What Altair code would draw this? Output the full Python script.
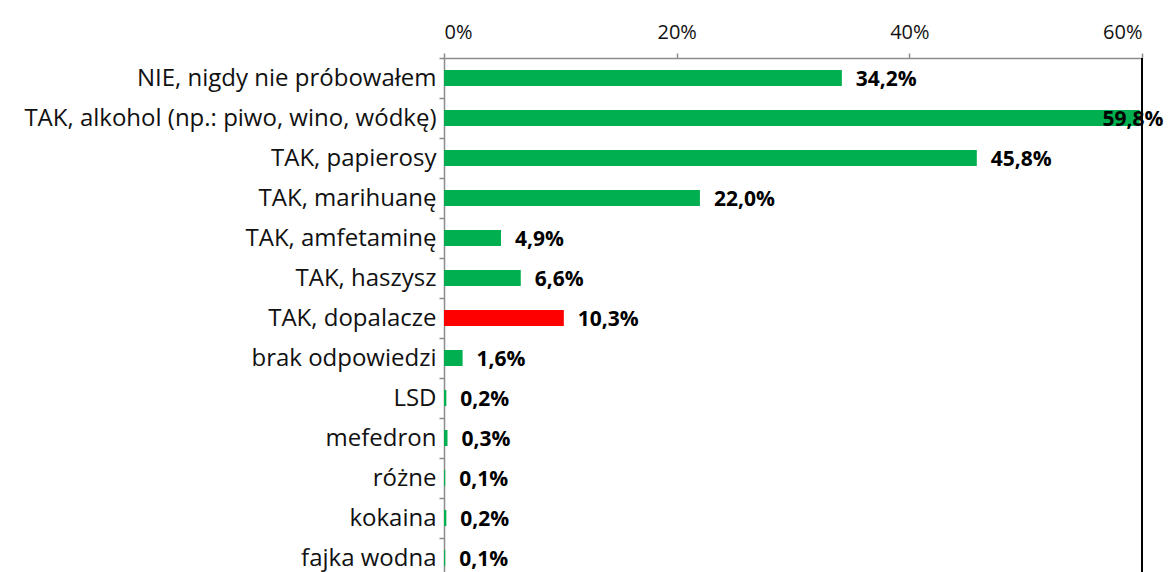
import altair as alt
import pandas as pd

categories = [
    "NIE, nigdy nie próbowałem",
    "TAK, alkohol (np.: piwo, wino, wódkę)",
    "TAK, papierosy",
    "TAK, marihuanę",
    "TAK, amfetaminę",
    "TAK, haszysz",
    "TAK, dopalacze",
    "brak odpowiedzi",
    "LSD",
    "mefedron",
    "różne",
    "kokaina",
    "fajka wodna",
]
values = [34.2, 59.8, 45.8, 22.0, 4.9, 6.6, 10.3, 1.6, 0.2, 0.3, 0.1, 0.2, 0.1]
highlight = ["n", "n", "n", "n", "n", "n", "y", "n", "n", "n", "n", "n", "n"]
x_ticks = [0, 20, 40, 60]

df = pd.DataFrame({"cat": categories, "v": values, "hl": highlight})

W, H = 698, 520
FONT = "Open Sans"

y_enc = alt.Y(
    "cat:N",
    sort=categories,
    scale=alt.Scale(paddingInner=0, paddingOuter=0),
    axis=alt.Axis(
        title=None,
        labelFontSize=24,
        labelFont=FONT,
        labelColor="#111111",
        labelLimit=600,
        labelPadding=3,
        tickBand="extent",
        tickSize=5,
        tickColor="#8c8c8c",
        domainColor="#8c8c8c",
        domainWidth=1.5,
        tickWidth=1.5,
        grid=False,
    ),
)

x_scale = alt.Scale(domain=[0, 60], nice=False)

bars = alt.Chart(df).mark_bar(size=16).encode(
    x=alt.X(
        "v:Q",
        scale=x_scale,
        axis=alt.Axis(
            orient="top",
            values=x_ticks,
            labelExpr="datum.value + '%'",
            title=None,
            grid=False,
            labelFontSize=20,
            labelFont=FONT,
            labelColor="#111111",
            tickSize=5,
            tickColor="#8c8c8c",
            domainColor="#8c8c8c",
            domainWidth=1.5,
            tickWidth=1.5,
            labelPadding=11,
        ),
    ),
    y=y_enc,
    color=alt.Color(
        "hl:N",
        scale=alt.Scale(domain=["n", "y"], range=["#00B050", "#FF0000"]),
        legend=None,
    ),
)

labels = alt.Chart(df).transform_calculate(
    label="replace(format(datum.v, '.1f'), '.', ',') + '%'",
    lx="min(datum.v, 55.4)",
).mark_text(
    align="left", baseline="middle", dx=14, dy=2, fontSize=21, fontWeight="bold", font=FONT, color="#000000"
).encode(
    x=alt.X("lx:Q", scale=x_scale),
    y=alt.Y("cat:N", sort=categories),
    text="label:N",
)

right_line = alt.Chart(df).mark_rule(color="#000000", strokeWidth=1.5).encode(
    x=alt.value(W), y=alt.value(0), y2=alt.value(H)
)

chart = alt.layer(bars, labels, right_line).properties(
    width=W,
    height=H,
    autosize=alt.AutoSizeParams(type="none"),
    padding={"left": 436, "top": 50, "right": 22, "bottom": 0},
).configure_view(stroke=None)

chart.save("out.html", embed_options={"renderer": "svg", "actions": False})
